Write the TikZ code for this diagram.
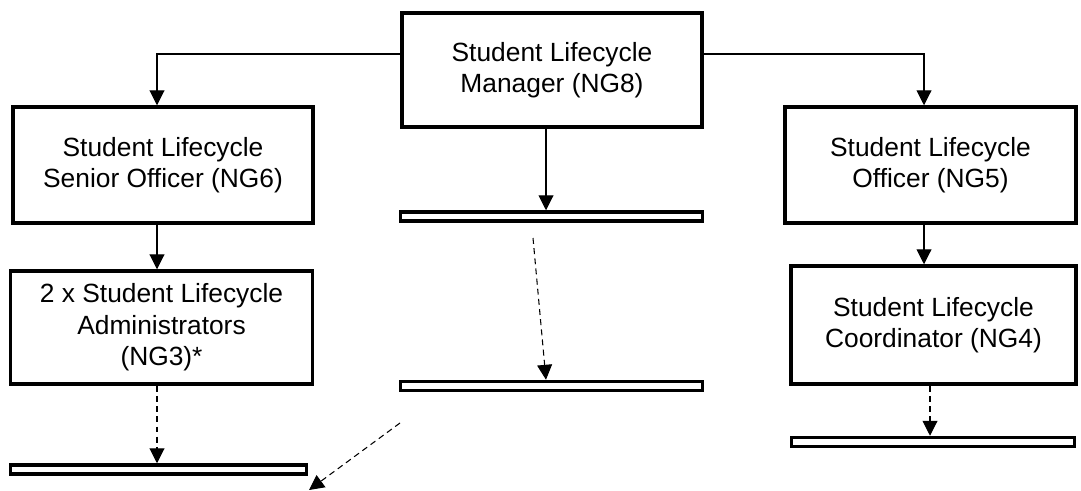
\documentclass[tikz,border=0pt]{standalone}
\usepackage{fontspec}
\setmainfont{Liberation Sans}
\usepackage{tikz}
\usetikzlibrary{arrows.meta,calc}

\tikzset{
	post/.style={draw=black, line width=2pt, fill=white, align=center, inner sep=0pt, font=\fontsize{15}{18}\selectfont},
	vacant/.style={draw=black, line width=2pt, fill=white, inner sep=0pt, minimum height=0.18cm},
	link/.style={line width=0.6pt, -{Triangle[length=8.5pt,width=8.5pt]}},
	vlink/.style={link, dash pattern=on 3.4pt off 2.4pt}
}

\begin{document}
\begin{tikzpicture}[x=0.02cm, y=-0.02cm]
		\useasboundingbox (0,0) rectangle (1081,490);
		\node[post, minimum width=6.0cm, minimum height=2.28cm] (mgr) at (552,70) {Student Lifecycle\\Manager (NG8)};
		\node[post, minimum width=6.0cm, minimum height=2.32cm] (snr) at (163,165) {Student Lifecycle\\Senior Officer (NG6)};
		\node[post, minimum width=5.82cm, minimum height=2.32cm] (off) at (930.5,165) {Student Lifecycle\\Officer (NG5)};
		\node[post, minimum width=6.04cm, minimum height=2.26cm] (adm) at (161.5,327.5) {2 x Student Lifecycle\\Administrators\\(NG3)*};
		\node[post, minimum width=5.7cm, minimum height=2.36cm] (crd) at (933.5,325) {Student Lifecycle\\Coordinator (NG4)};
		\node[vacant, minimum width=6.04cm] (bar1) at (551.5,216.5) {};
		\node[vacant, minimum width=6.04cm] (bar2) at (551.5,386) {};
		\node[vacant, minimum width=5.92cm] (bar3) at (158.5,469.5) {};
		\node[vacant, minimum width=5.66cm] (bar4) at (933,442) {};
		\coordinate (lx) at (157,0);
		\coordinate (mx) at (546,0);
		\coordinate (rx) at (924,0);
		\coordinate (cx) at (930,0);
		\coordinate (gap1) at (533,238);
		\coordinate (gap2) at (400,423);
		\coordinate (lost) at (309,490);
		\draw[link] ($(mgr.west)+(0,-16)$) -| (snr.north -| lx);
		\draw[link] ($(mgr.east)+(0,-16)$) -| (off.north -| rx);
		\draw[link] (mgr.south -| mx) -- (bar1.north -| mx);
		\draw[link] (snr.south -| lx) -- (adm.north -| lx);
		\draw[link] (off.south -| rx) -- (crd.north -| rx);
		\draw[vlink] (adm.south -| lx) -- (bar3.north -| lx);
		\draw[vlink] (gap1) -- (bar2.north -| mx);
		\draw[vlink] (gap2) -- (lost);
		\draw[vlink] (crd.south -| cx) -- (bar4.north -| cx);
	\end{tikzpicture}
\end{document}
